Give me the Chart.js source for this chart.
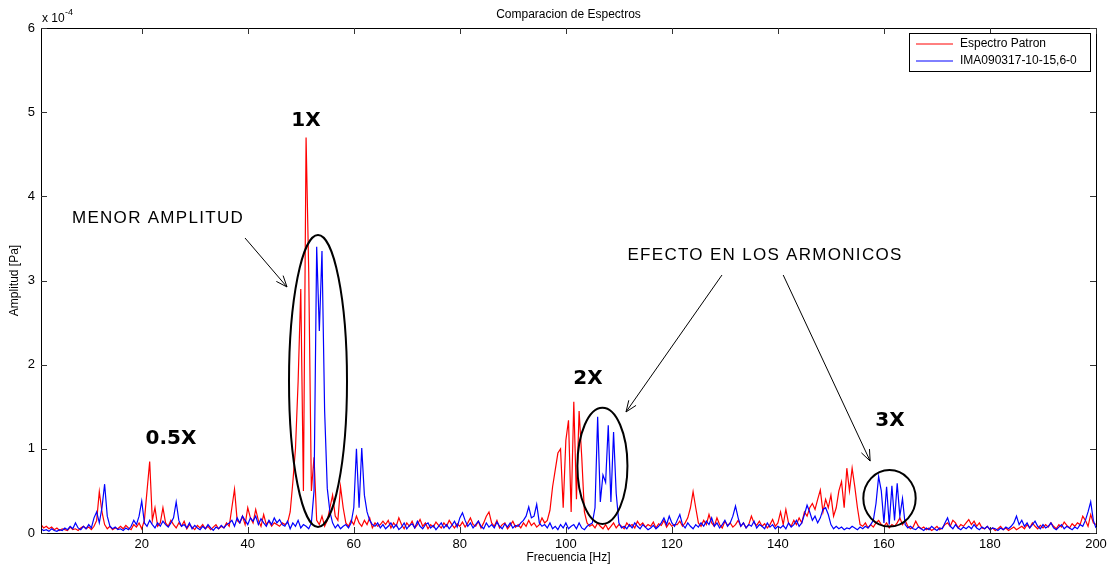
<!DOCTYPE html>
<html>
<head>
<meta charset="utf-8">
<script src="https://cdn.jsdelivr.net/npm/chart.js@4.4.1/dist/chart.umd.min.js"></script>
<style>
  html,body{margin:0;padding:0;background:#fff;}
  #wrap{width:1115px;height:568px;position:relative;}
</style>
</head>
<body>
<div id="wrap"><canvas id="chart" width="1115" height="568"></canvas></div>
<script>
// espectros, amplitud en unidades de 1e-4 Pa, frecuencia desde 1 Hz cada 0.5 Hz
const FREQ_START = 1, FREQ_STEP = 0.5;
const X_TICKS = [20,40,60,80,100,120,140,160,180,200];
const Y_TICKS = [0,1,2,3,4,5,6];
const SERIES_NAMES = ['Espectro Patron','IMA090317-10-15,6-0'];

const PATRON = [
  0.10,0.06,0.08,0.05,0.07,0.04,0.06,0.03,0.05,0.04,   // 1-5.5
  0.03,0.07,0.04,0.05,0.03,0.06,0.08,0.05,0.07,0.04,   // 6-10.5
  0.08,0.15,0.49,0.25,0.10,0.05,0.08,0.04,0.06,0.05,   // 11-15.5
  0.08,0.05,0.09,0.06,0.04,0.10,0.07,0.12,0.05,0.15,   // 16-20.5
  0.50,0.85,0.15,0.30,0.08,0.12,0.30,0.12,0.08,0.15,   // 21-25.5
  0.10,0.06,0.12,0.08,0.14,0.05,0.10,0.07,0.04,0.09,   // 26-30.5
  0.06,0.10,0.05,0.08,0.04,0.07,0.10,0.05,0.08,0.06,   // 31-35.5
  0.12,0.08,0.30,0.52,0.15,0.12,0.20,0.10,0.30,0.18,   // 36-40.5
  0.12,0.28,0.15,0.08,0.22,0.10,0.14,0.08,0.12,0.10,   // 41-45.5
  0.08,0.12,0.10,0.12,0.25,0.60,1.00,1.80,2.90,0.50,   // 46-50.5
  4.70,3.10,0.50,0.90,0.15,0.10,0.20,0.08,0.15,0.30,   // 51-55.5
  0.45,0.20,0.15,0.55,0.30,0.12,0.08,0.15,0.10,0.20,   // 56-60.5
  0.12,0.08,0.15,0.10,0.18,0.06,0.12,0.08,0.10,0.14,   // 61-65.5
  0.10,0.15,0.06,0.12,0.08,0.18,0.10,0.05,0.12,0.08,   // 66-70.5
  0.14,0.06,0.10,0.16,0.08,0.12,0.05,0.10,0.07,0.13,   // 71-75.5
  0.09,0.06,0.12,0.08,0.15,0.10,0.06,0.11,0.08,0.13,   // 76-80.5
  0.07,0.12,0.18,0.10,0.08,0.14,0.06,0.12,0.20,0.25,   // 81-85.5
  0.12,0.08,0.15,0.06,0.10,0.12,0.05,0.09,0.14,0.07,   // 86-90.5
  0.10,0.06,0.12,0.08,0.15,0.09,0.12,0.07,0.10,0.18,   // 91-95.5
  0.12,0.15,0.27,0.55,0.75,0.95,1.00,0.30,1.10,1.34,   // 96-100.5
  0.25,1.56,0.40,1.45,0.90,0.25,0.12,0.08,0.10,0.06,   // 101-105.5
  0.12,0.08,0.05,0.10,0.04,0.08,0.12,0.06,0.10,0.08,   // 106-110.5
  0.05,0.12,0.08,0.10,0.06,0.14,0.09,0.12,0.07,0.10,   // 111-115.5
  0.08,0.13,0.06,0.11,0.09,0.15,0.07,0.12,0.08,0.10,   // 116-120.5
  0.10,0.14,0.08,0.12,0.18,0.30,0.49,0.30,0.12,0.08,   // 121-125.5
  0.15,0.10,0.22,0.12,0.08,0.18,0.10,0.06,0.14,0.09,   // 126-130.5
  0.12,0.07,0.10,0.15,0.08,0.12,0.06,0.10,0.20,0.12,   // 131-135.5
  0.09,0.14,0.08,0.11,0.06,0.10,0.16,0.08,0.12,0.25,   // 136-140.5
  0.10,0.28,0.12,0.08,0.15,0.10,0.18,0.12,0.25,0.20,   // 141-145.5
  0.30,0.35,0.28,0.40,0.51,0.25,0.40,0.30,0.45,0.20,   // 146-150.5
  0.30,0.50,0.61,0.30,0.77,0.50,0.77,0.55,0.30,0.10,   // 151-155.5
  0.08,0.12,0.06,0.10,0.07,0.12,0.15,0.10,0.08,0.12,   // 156-160.5
  0.06,0.10,0.08,0.12,0.18,0.10,0.15,0.08,0.05,0.07,   // 161-165.5
  0.14,0.08,0.05,0.07,0.04,0.06,0.03,0.05,0.08,0.04,   // 166-170.5
  0.06,0.10,0.12,0.08,0.15,0.12,0.06,0.10,0.08,0.12,   // 171-175.5
  0.16,0.10,0.14,0.08,0.12,0.06,0.05,0.08,0.04,0.06,   // 176-180.5
  0.03,0.05,0.08,0.04,0.06,0.03,0.05,0.07,0.04,0.06,   // 181-185.5
  0.08,0.05,0.10,0.06,0.12,0.08,0.05,0.09,0.06,0.10,   // 186-190.5
  0.07,0.12,0.08,0.05,0.10,0.07,0.13,0.09,0.06,0.11,   // 191-195.5
  0.08,0.12,0.10,0.20,0.15,0.08,0.22,0.12,0.10         // 196-200
];

const IMA = [
  0.05,0.03,0.04,0.02,0.05,0.03,0.02,0.04,0.03,0.06,   // 1-5.5
  0.04,0.08,0.05,0.12,0.06,0.04,0.08,0.05,0.10,0.06,   // 6-10.5
  0.18,0.25,0.12,0.30,0.58,0.20,0.08,0.05,0.07,0.04,   // 11-15.5
  0.05,0.03,0.06,0.04,0.08,0.15,0.10,0.20,0.38,0.12,   // 16-20.5
  0.08,0.15,0.10,0.06,0.12,0.08,0.14,0.10,0.07,0.12,   // 21-25.5
  0.18,0.37,0.15,0.08,0.10,0.06,0.12,0.05,0.09,0.06,   // 26-30.5
  0.04,0.08,0.05,0.10,0.06,0.03,0.07,0.05,0.09,0.06,   // 31-35.5
  0.10,0.12,0.15,0.08,0.18,0.12,0.20,0.15,0.10,0.18,   // 36-40.5
  0.14,0.20,0.10,0.17,0.12,0.08,0.15,0.10,0.18,0.12,   // 41-45.5
  0.16,0.10,0.08,0.14,0.05,0.12,0.08,0.15,0.06,0.10,   // 46-50.5
  0.08,0.05,0.12,0.50,3.40,2.40,3.35,1.45,0.53,0.25,   // 51-55.5
  0.12,0.06,0.10,0.05,0.08,0.10,0.06,0.12,0.30,1.00,   // 56-60.5
  0.30,1.01,0.45,0.25,0.15,0.10,0.08,0.12,0.06,0.10,   // 61-65.5
  0.05,0.08,0.12,0.06,0.10,0.04,0.07,0.12,0.05,0.09,   // 66-70.5
  0.11,0.06,0.14,0.08,0.05,0.10,0.12,0.06,0.09,0.04,   // 71-75.5
  0.08,0.12,0.06,0.10,0.05,0.09,0.14,0.07,0.18,0.24,   // 76-80.5
  0.15,0.08,0.12,0.06,0.10,0.14,0.08,0.05,0.12,0.07,   // 81-85.5
  0.10,0.06,0.13,0.08,0.05,0.11,0.07,0.12,0.06,0.09,   // 86-90.5
  0.08,0.12,0.15,0.20,0.31,0.18,0.20,0.34,0.12,0.08,   // 91-95.5
  0.10,0.06,0.12,0.05,0.08,0.04,0.10,0.06,0.12,0.05,   // 96-100.5
  0.08,0.10,0.05,0.12,0.06,0.04,0.08,0.10,0.12,0.30,   // 101-105.5
  1.38,0.37,0.69,0.60,1.28,0.37,1.20,0.47,0.12,0.06,   // 106-110.5
  0.08,0.05,0.10,0.06,0.12,0.08,0.05,0.10,0.07,0.04,   // 111-115.5
  0.06,0.09,0.05,0.08,0.12,0.18,0.10,0.20,0.12,0.08,   // 116-120.5
  0.15,0.22,0.10,0.06,0.12,0.08,0.05,0.10,0.07,0.12,   // 121-125.5
  0.08,0.14,0.10,0.18,0.08,0.12,0.06,0.10,0.15,0.08,   // 126-130.5
  0.12,0.20,0.32,0.18,0.08,0.12,0.06,0.10,0.08,0.14,   // 131-135.5
  0.06,0.10,0.08,0.05,0.12,0.07,0.10,0.05,0.08,0.06,   // 136-140.5
  0.09,0.05,0.12,0.07,0.10,0.15,0.08,0.12,0.22,0.33,   // 141-145.5
  0.25,0.15,0.20,0.12,0.18,0.28,0.30,0.22,0.10,0.05,   // 146-150.5
  0.08,0.05,0.07,0.04,0.06,0.05,0.08,0.06,0.04,0.07,   // 151-155.5
  0.05,0.08,0.06,0.10,0.15,0.35,0.67,0.50,0.12,0.55,   // 156-160.5
  0.10,0.56,0.15,0.59,0.20,0.41,0.10,0.06,0.08,0.05,   // 161-165.5
  0.04,0.07,0.05,0.03,0.06,0.04,0.08,0.05,0.03,0.06,   // 166-170.5
  0.05,0.12,0.18,0.08,0.05,0.10,0.06,0.04,0.07,0.05,   // 171-175.5
  0.08,0.05,0.10,0.06,0.04,0.07,0.05,0.08,0.04,0.06,   // 176-180.5
  0.05,0.03,0.06,0.04,0.07,0.05,0.08,0.12,0.20,0.10,   // 181-185.5
  0.15,0.08,0.12,0.06,0.10,0.14,0.08,0.05,0.10,0.06,   // 186-190.5
  0.08,0.12,0.06,0.04,0.07,0.10,0.05,0.08,0.06,0.04,   // 191-195.5
  0.07,0.05,0.10,0.08,0.15,0.25,0.37,0.15,0.06         // 196-200
];

// anotaciones (coordenadas en Hz / 1e-4 Pa)
const ELIPSES = [
  {f:53.25, a:1.806, rf:5.47, ra:1.735},
  {f:106.9, a:0.798, rf:4.72, ra:0.69},
  {f:161.05,a:0.412, rf:4.94, ra:0.336}
];
const FLECHAS = [
  {f0:39.48, a0:3.505, f1:47.4,  a1:2.923},
  {f0:129.45,a0:3.065, f1:111.35,a1:1.438},
  {f0:141.0, a0:3.065, f1:157.4, a1:0.855}
];
const ETIQUETAS_ARMONICOS = [
  {t:'1X',   f:50.99, a:4.907},
  {t:'0.5X', f:25.52, a:1.129},
  {t:'2X',   f:104.18,a:1.842},
  {t:'3X',   f:161.14,a:1.343}
];
const TEXTOS = [
  {t:'MENOR AMPLITUD',          f:23.07, a:3.742},
  {t:'EFECTO EN LOS ARMONICOS', f:137.57,a:3.303}
];

const toXY = arr => arr.map((v,i)=>({x:FREQ_START+i*FREQ_STEP, y:v}));
const FONT = '"Liberation Sans", Arial, sans-serif';

const decoracion = {
  id:'decoracion',
  afterDraw(chart){
    const {ctx, chartArea:ca, scales:{x,y}} = chart;
    ctx.save();
    // caja de ejes
    ctx.strokeStyle = '#000'; ctx.lineWidth = 1;
    ctx.strokeRect(ca.left+0.5, ca.top+0.5, ca.right-ca.left, ca.bottom-ca.top);
    // marcas hacia dentro
    ctx.strokeStyle = '#333';
    ctx.beginPath();
    X_TICKS.forEach(v=>{
      const px = Math.round(x.getPixelForValue(v))+0.5;
      ctx.moveTo(px, ca.bottom); ctx.lineTo(px, ca.bottom-6);
      ctx.moveTo(px, ca.top); ctx.lineTo(px, ca.top+6);
    });
    Y_TICKS.forEach(v=>{
      const py = Math.round(y.getPixelForValue(v))+0.5;
      ctx.moveTo(ca.left, py); ctx.lineTo(ca.left+6, py);
      ctx.moveTo(ca.right, py); ctx.lineTo(ca.right-6, py);
    });
    ctx.stroke();

    // titulo, multiplicador y etiquetas de ejes
    ctx.fillStyle = '#000';
    ctx.font = '12px '+FONT;
    ctx.textAlign = 'center'; ctx.textBaseline = 'middle';
    ctx.fillText('Comparacion de Espectros', (ca.left+ca.right)/2, 15);
    ctx.fillText('Frecuencia [Hz]', (ca.left+ca.right)/2, 558);
    ctx.save();
    ctx.translate(15, (ca.top+ca.bottom)/2);
    ctx.rotate(-Math.PI/2);
    ctx.fillText('Amplitud [Pa]', 0, 0);
    ctx.restore();
    ctx.textAlign = 'left'; ctx.textBaseline = 'alphabetic';
    ctx.font = '12px '+FONT;
    ctx.fillText('x 10', 42, 22);
    ctx.font = '9px '+FONT;
    ctx.fillText('-4', 65, 15);

    // leyenda
    const lx = 909, ly = 33, lw = 181, lh = 38;
    ctx.fillStyle = '#fff';
    ctx.fillRect(lx, ly, lw, lh);
    ctx.strokeStyle = '#000';
    ctx.strokeRect(lx+0.5, ly+0.5, lw, lh);
    const colores = ['#ff0000','#0000ff'];
    ctx.font = '12px '+FONT; ctx.textBaseline = 'middle';
    SERIES_NAMES.forEach((n,i)=>{
      const yy = ly + 11 + i*17;
      ctx.strokeStyle = colores[i]; ctx.lineWidth = 1;
      ctx.beginPath(); ctx.moveTo(916, yy); ctx.lineTo(953, yy); ctx.stroke();
      ctx.fillStyle = '#000';
      ctx.fillText(n, 960, yy);
    });

    // elipses
    ctx.strokeStyle = '#000'; ctx.lineWidth = 2;
    ELIPSES.forEach(e=>{
      const cx = x.getPixelForValue(e.f), cy = y.getPixelForValue(e.a);
      const rx = Math.abs(x.getPixelForValue(e.f+e.rf)-cx);
      const ry = Math.abs(y.getPixelForValue(e.a+e.ra)-cy);
      ctx.beginPath(); ctx.ellipse(cx, cy, rx, ry, 0, 0, Math.PI*2); ctx.stroke();
    });

    // flechas
    ctx.lineWidth = 1;
    FLECHAS.forEach(fl=>{
      const x0 = x.getPixelForValue(fl.f0), y0 = y.getPixelForValue(fl.a0);
      const x1 = x.getPixelForValue(fl.f1), y1 = y.getPixelForValue(fl.a1);
      const ang = Math.atan2(y1-y0, x1-x0), L = 12, w = 0.38;
      ctx.beginPath();
      ctx.moveTo(x0,y0); ctx.lineTo(x1,y1);
      ctx.moveTo(x1-L*Math.cos(ang-w), y1-L*Math.sin(ang-w));
      ctx.lineTo(x1,y1);
      ctx.lineTo(x1-L*Math.cos(ang+w), y1-L*Math.sin(ang+w));
      ctx.stroke();
    });

    // textos
    ctx.fillStyle = '#000'; ctx.textAlign = 'center'; ctx.textBaseline = 'middle';
    ctx.font = '17px '+FONT;
    ctx.letterSpacing = '1.3px';
    TEXTOS.forEach(t=>ctx.fillText(t.t, x.getPixelForValue(t.f), y.getPixelForValue(t.a)));
    ctx.letterSpacing = '0px';
    ctx.font = 'bold 20px "DejaVu Sans", sans-serif';
    ETIQUETAS_ARMONICOS.forEach(t=>ctx.fillText(t.t, x.getPixelForValue(t.f), y.getPixelForValue(t.a)+1));
    ctx.restore();
  }
};

new Chart(document.getElementById('chart'), {
  type:'line',
  data:{datasets:[
    {label:SERIES_NAMES[1], data:toXY(IMA), borderColor:'#0000ff', borderWidth:1.2, pointRadius:0, tension:0, fill:false, order:0},
    {label:SERIES_NAMES[0], data:toXY(PATRON), borderColor:'#ff0000', borderWidth:1.2, pointRadius:0, tension:0, fill:false, order:1}
  ]},
  options:{
    responsive:false, animation:false,
    layout:{padding:{top:28, right:19, left:0, bottom:0}},
    plugins:{legend:{display:false}, tooltip:{enabled:false}, title:{display:false}},
    scales:{
      x:{type:'linear', min:1, max:200,
        afterBuildTicks:s=>{s.ticks = X_TICKS.map(v=>({value:v}));},
        afterFit:s=>{s.height = 35;},
        grid:{display:false, drawTicks:false}, border:{display:false},
        ticks:{padding:4, color:'#000', font:{family:FONT, size:13}}},
      y:{min:0, max:6,
        afterBuildTicks:s=>{s.ticks = Y_TICKS.map(v=>({value:v}));},
        afterFit:s=>{s.width = 41;},
        grid:{display:false, drawTicks:false}, border:{display:false},
        ticks:{padding:6, color:'#000', font:{family:FONT, size:13}}}
    }
  },
  plugins:[decoracion]
});
</script>
</body>
</html>
